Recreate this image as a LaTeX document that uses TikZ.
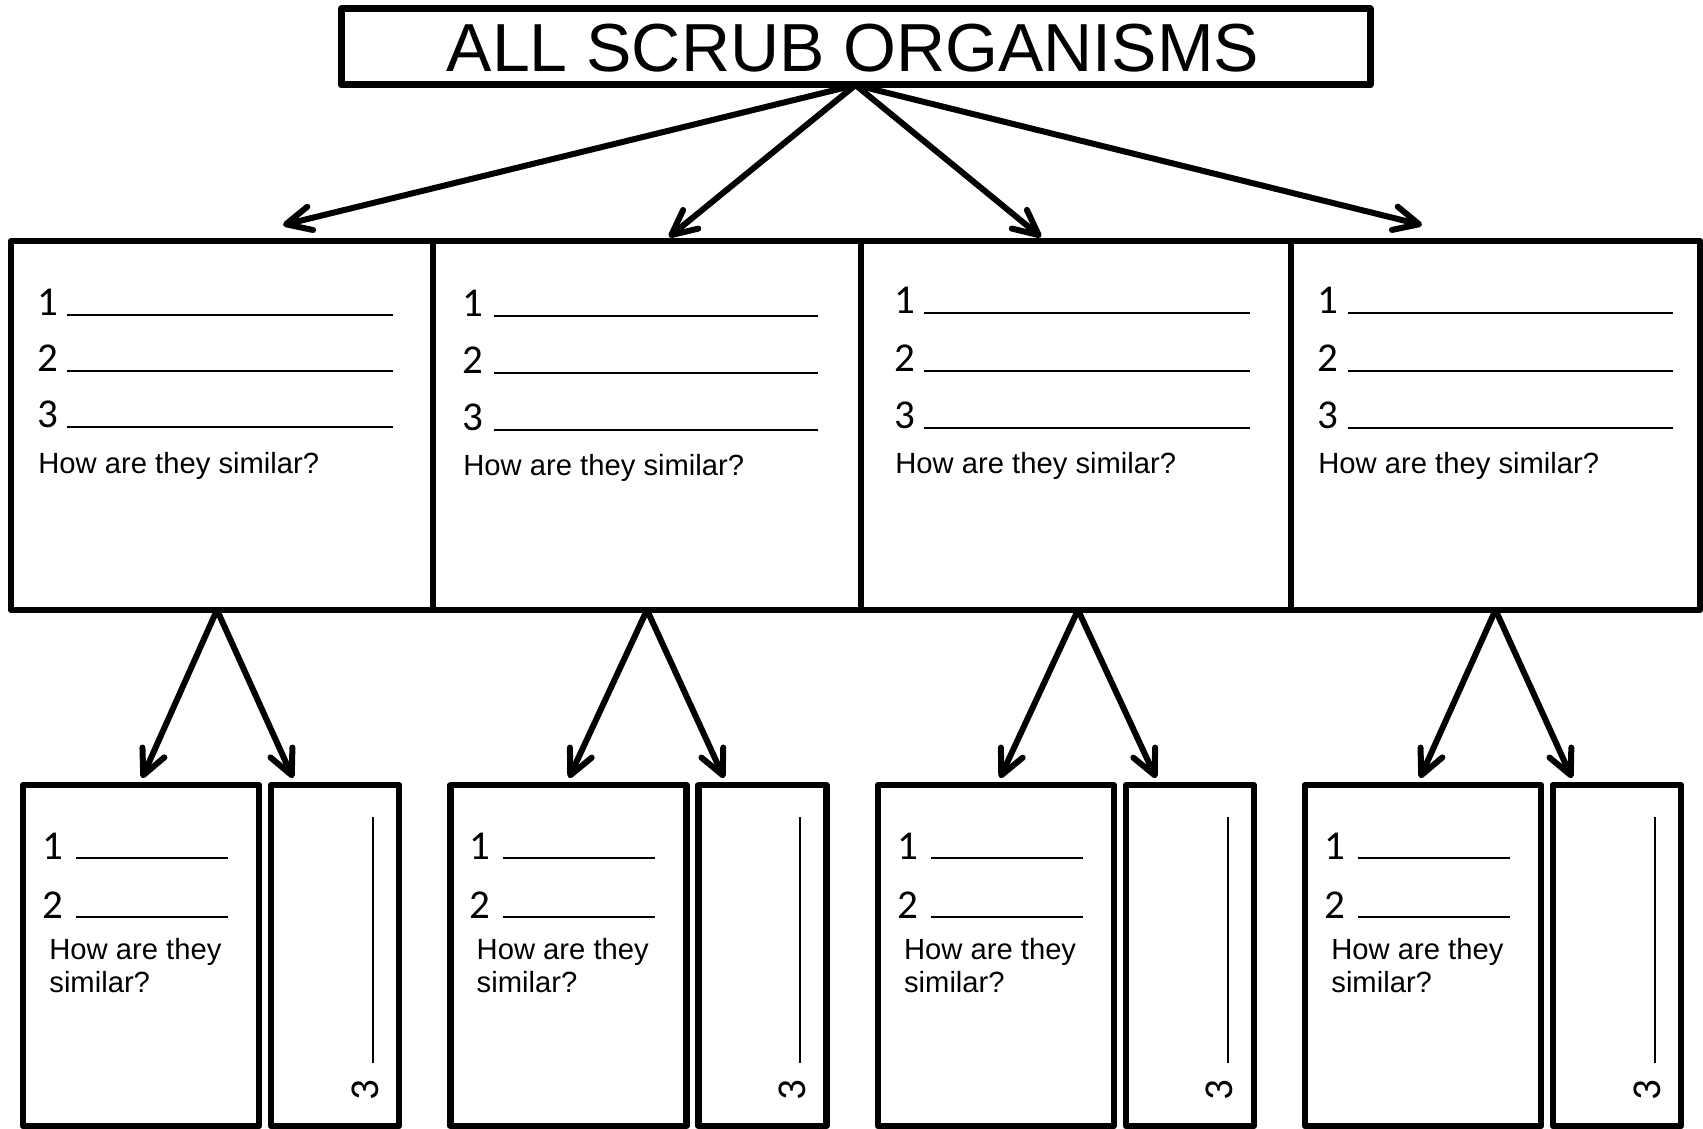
\documentclass[tikz,border=0pt]{standalone}
\usepackage{fontspec}
\setmainfont{Liberation Sans}
\newfontfamily\digitfont{Carlito}
\usetikzlibrary{arrows.meta,fit,calc}
\begin{document}
\begin{tikzpicture}[x=0.5pt,y=-0.5pt,
  boxst/.style={draw, line width=3.2pt, inner sep=0pt, outer sep=0pt, line join=round},
  arr/.style={line width=3pt, line cap=round, line join=round,
    -{Straight Barb[length=12.5pt,width=12pt,line join=round,line cap=round]}},
  rulest/.style={line width=0.9pt},
  dig/.style={font=\digitfont\fontsize{20.5}{24}\selectfont, inner sep=0pt, anchor=base west},
  qst/.style={font=\fontsize{14.6}{16}\selectfont, inner sep=0pt, anchor=base west},
]
\useasboundingbox (0,0) rectangle (1703,1129);

% title
\node[boxst, line width=3.5pt, fit={(341,9)(1370,85)}] (title) {};
\node[font=\fontsize{34}{40}\selectfont, anchor=base, inner sep=0pt] (titletext) at (853,72) {ALL SCRUB ORGANISMS};

% middle boxes
\node[boxst, fit={(11,241)(433,610)}] (m1) {};
\node[boxst, fit={(433,241)(861,610)}] (m2) {};
\node[boxst, fit={(861,241)(1291,610)}] (m3) {};
\node[boxst, fit={(1291,241)(1700,610)}] (m4) {};

\foreach \b/\xd/\xs/\xe/\ya/\yb/\yc/\yq in
  {1/40/67/393/315/371/427/473, 2/465/494/818/316/373/430/475,
   3/897/924/1250/313/371/428/473, 4/1320/1348/1673/313/371/428/473} {
  \node[dig] (m\b-d1) at (\xd-3,\ya) {1};
  \node[dig] (m\b-d2) at (\xd-3,\yb) {2};
  \node[dig] (m\b-d3) at (\xd-3,\yc) {3};
  \draw[rulest] (\xs,\ya) -- (\xe,\ya);
  \draw[rulest] (\xs,\yb) -- (\xe,\yb);
  \draw[rulest] (\xs,\yc) -- (\xe,\yc);
  \node[qst] (m\b-q) at (\xd-2,\yq) {How are they similar?};
}

% top arrows
\coordinate (t1) at (283,225);
\coordinate (t2) at (669,237);
\coordinate (t3) at (1041,237);
\coordinate (t4) at (1422,225);
\foreach \i in {1,2,3,4} { \draw[arr] (title.south) -- (t\i); }

% bottom pairs
\foreach \k/\dk/\lt/\rt/\ox in {1/0/142/293/-5, 2/427.3/569/724/0, 3/854.7/1000/1156/2, 4/1282/1420/1572/0} {
  \node[boxst, fit={(23+\dk,785)(259+\dk,1126)}] (b\k) {};
  \node[boxst, fit={(271+\dk,785)(399+\dk,1126)}] (s\k) {};
  \node[dig] (b\k-d1) at (42+\dk,859) {1};
  \node[dig] (b\k-d2) at (42+\dk,918) {2};
  \draw[rulest] (76+\dk,858) -- (228+\dk,858);
  \draw[rulest] (76+\dk,917) -- (228+\dk,917);
  \node[qst] (b\k-q1) at (49+\dk,959) {How are they};
  \node[qst] (b\k-q2) at (49+\dk,992) {similar?};
  \draw[rulest] (373+\dk,1063) -- (373+\dk,817);
  \node[dig, rotate=90] (s\k-d3) at (378+\dk,1101) {3};
  \coordinate (bl\k) at (\lt,778);
  \coordinate (br\k) at (\rt,778);
  \draw[arr] ($(m\k.south)+(\ox,0)$) -- (bl\k);
  \draw[arr] ($(m\k.south)+(\ox,0)$) -- (br\k);
}
\end{tikzpicture}
\end{document}
